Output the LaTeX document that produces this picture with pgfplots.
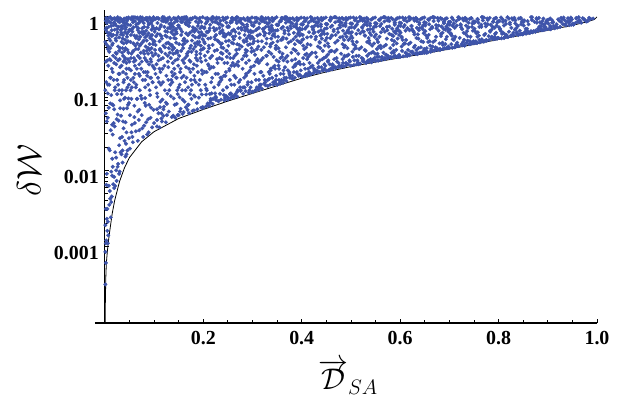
\RequirePackage{fix-cm}
\documentclass[border=0pt]{standalone}
\usepackage{pgfplots}
\pgfplotsset{compat=1.18}
\usepackage{fontspec}
\setmainfont{Liberation Serif}
\definecolor{ptblue}{RGB}{62,84,170}
\begin{document}
\begin{tikzpicture}
\path[use as bounding box] (-95bp,-74bp) rectangle (529bp,323bp);
\begin{axis}[
  scale only axis, width=502bp, height=313bp,
  xmin=-0.02, xmax=1.0, ymode=log, ymin=1e-4, ymax=1.23,
  axis x line=bottom, axis y line=middle,
  every outer x axis line/.append style={-},
  every inner y axis line/.append style={-},
  axis line style={-, line width=1.2bp, black},
  axis on top,
  tick align=inside,
  major tick length=4bp, minor tick length=3bp,
  tick style={black, line width=0.8bp},
  xtick={0.2,0.4,0.6,0.8,1.0}, xticklabels={0.2,0.4,0.6,0.8,1.0},
  minor xtick={0.05,0.1,0.15,0.25,0.3,0.35,0.45,0.5,0.55,0.65,0.7,0.75,0.85,0.9,0.95},
  ytick={0.001,0.01,0.1,1}, yticklabels={0.001,0.01,0.1,1},
  minor ytick={},
  ticklabel style={font=\fontsize{20}{22}\selectfont\bfseries},
  xticklabel style={yshift=-5bp},
  yticklabel style={yshift=-7bp, xshift=-2.5bp},
  xlabel={$\overrightarrow{\mathcal{D}}_{SA}$},
  ylabel={$\delta\mathcal{W}$},
  xlabel style={at={(axis description cs:0.504,-0.172)}, anchor=center, font=\fontsize{30}{34}\selectfont},
  ylabel style={at={(axis description cs:-0.1315,0.489)}, anchor=center, rotate=90, font=\fontsize{34}{38}\selectfont},
]
\addplot[only marks, mark=*, color=ptblue, mark size=1.8bp, mark options={draw=none, fill=ptblue}] table {
x y
0.017 0.31
0.003 0.72
0.041 0.088
0.029 0.54
0.008 0.019
0.046 0.93
0.012 0.16
0.035 0.027
0.021 0.81
0.006 0.38
0.044 0.21
0.026 0.011
0.014 0.67
0.038 0.45
0.002 0.055
0.031 0.96
0.019 0.062
0.048 0.34
0.009 0.87
0.023 0.24
0.036 0.71
0.004 0.0089
0.042 0.015
0.015 0.43
0.027 0.13
0.011 0.99
0.033 0.59
0.047 0.071
0.007 0.23
0.020 0.037
0.039 0.91
0.024 0.0072
0.001 0.47
0.045 0.55
0.013 0.095
0.030 0.28
0.018 0.78
0.037 0.19
0.005 0.63
0.028 0.044
0.043 0.83
0.010 0.0053
0.022 0.52
0.034 0.098
0.016 0.94
0.049 0.026
0.003 0.14
0.040 0.36
0.025 0.69
0.012 0.033
0.032 0.017
0.019 0.0058
0.046 0.16
0.008 0.97
0.038 0.063
0.027 0.88
0.014 0.21
0.002 0.0031
0.044 0.46
0.021 0.12
0.035 0.76
0.006 0.048
0.030 0.0095
0.017 0.58
0.041 0.29
0.011 0.074
0.048 0.64
0.024 0.33
0.004 0.83
0.033 0.051
0.015 0.0084
0.039 0.15
0.007 0.41
0.026 0.99
0.043 0.11
0.019 0.25
0.001 0.0019
0.036 0.87
0.013 0.59
0.029 0.021
0.047 0.79
0.009 0.13
0.022 0.92
0.040 0.024
0.005 0.27
0.031 0.39
0.016 0.029
0.045 0.064
0.025 0.15
0.011 0.49
0.037 0.58
0.003 0.97
0.020 0.68
0.042 0.39
0.014 0.0045
0.028 0.74
0.008 0.065
0.034 0.23
0.049 0.13
0.018 0.041
0.023 0.0099
0.039 0.95
0.006 0.0021
0.032 0.67
0.012 0.84
0.044 0.031
0.026 0.053
0.002 0.26
0.036 0.018
0.016 0.19
0.047 0.48
0.010 0.28
0.030 0.85
0.021 0.017
0.041 0.63
0.004 0.043
0.035 0.34
0.013 0.0038
0.027 0.41
0.048 0.98
0.009 0.52
0.019 0.96
0.038 0.26
0.001 0.11
0.024 0.58
0.043 0.18
0.015 0.072
0.033 0.93
0.007 0.0014
0.029 0.11
0.046 0.37
0.012 0.0024
0.022 0.29
0.040 0.77
0.003 0.0064
0.018 0.83
0.037 0.043
0.008 0.74
0.031 0.064
0.045 0.89
0.025 0.94
0.014 0.94
0.005 0.0016
0.042 0.69
0.020 0.11
0.034 0.47
0.011 0.39
0.049 0.075
0.027 0.27
0.016 0.011
0.002 0.89
0.039 0.085
0.023 0.77
0.006 0.13
0.044 0.25
0.030 0.18
0.017 0.0065
0.010 0.018
0.036 0.52
0.001 0.00032
0.002 0.00061
0.003 0.0012
0.004 0.0023
0.001 0.00085
0.073 0.44
0.056 0.91
0.088 0.13
0.062 0.27
0.095 0.68
0.051 0.052
0.079 0.83
0.067 0.024
0.091 0.37
0.058 0.16
0.084 0.97
0.070 0.061
0.099 0.22
0.053 0.58
0.076 0.035
0.064 0.75
0.093 0.048
0.081 0.29
0.059 0.99
0.086 0.57
0.071 0.11
0.097 0.89
0.054 0.33
0.066 0.085
0.089 0.031
0.078 0.64
0.061 0.041
0.094 0.16
0.052 0.78
0.083 0.19
0.069 0.92
0.098 0.44
0.057 0.023
0.075 0.26
0.087 0.73
0.063 0.53
0.092 0.095
0.080 0.038
0.055 0.12
0.068 0.38
0.096 0.036
0.074 0.97
0.060 0.069
0.085 0.49
0.050 0.26
0.077 0.15
0.090 0.82
0.065 0.21
0.099 0.061
0.058 0.45
0.082 0.087
0.072 0.55
0.093 0.28
0.053 0.94
0.067 0.67
0.086 0.029
0.079 0.36
0.061 0.88
0.097 0.14
0.070 0.033
0.089 0.61
0.055 0.039
0.076 0.71
0.064 0.13
0.091 0.98
0.082 0.54
0.059 0.29
0.095 0.39
0.069 0.18
0.051 0.019
0.084 0.27
0.073 0.093
0.062 0.98
0.088 0.046
0.097 0.76
0.056 0.64
0.078 0.027
0.066 0.45
0.093 0.56
0.081 0.93
0.053 0.15
0.071 0.29
0.086 0.17
0.060 0.57
0.099 0.99
0.075 0.052
0.057 0.35
0.090 0.24
0.068 0.82
0.083 0.069
0.063 0.032
0.096 0.51
0.052 0.47
0.077 0.47
0.092 0.16
0.065 0.96
0.087 0.88
0.054 0.085
0.080 0.74
0.070 0.24
0.094 0.065
0.059 0.14
0.085 0.36
0.074 0.63
0.061 0.18
0.098 0.31
0.050 0.68
0.082 0.12
0.067 0.058
0.091 0.44
0.056 0.027
0.079 0.19
0.095 0.94
0.063 0.38
0.072 0.87
0.088 0.33
0.058 0.73
0.084 0.042
0.069 0.51
0.097 0.23
0.053 0.29
0.076 0.98
0.090 0.071
0.065 0.085
0.081 0.61
0.060 0.049
0.094 0.83
0.071 0.42
0.087 0.96
0.055 0.99
0.123 0.57
0.108 0.16
0.141 0.84
0.116 0.043
0.134 0.29
0.102 0.93
0.147 0.11
0.128 0.71
0.112 0.38
0.139 0.051
0.105 0.24
0.131 0.98
0.119 0.062
0.145 0.46
0.110 0.69
0.136 0.19
0.124 0.042
0.101 0.48
0.149 0.77
0.114 0.13
0.127 0.89
0.143 0.27
0.106 0.062
0.133 0.53
0.118 0.97
0.140 0.086
0.103 0.33
0.129 0.15
0.146 0.61
0.111 0.036
0.137 0.41
0.121 0.23
0.107 0.83
0.144 0.95
0.126 0.073
0.115 0.56
0.132 0.34
0.148 0.052
0.104 0.12
0.138 0.67
0.120 0.99
0.109 0.27
0.142 0.18
0.125 0.45
0.113 0.078
0.135 0.91
0.101 0.64
0.130 0.058
0.147 0.36
0.117 0.21
0.139 0.74
0.106 0.045
0.122 0.11
0.144 0.52
0.110 0.94
0.128 0.31
0.136 0.049
0.103 0.18
0.149 0.99
0.119 0.42
0.133 0.13
0.112 0.59
0.141 0.39
0.124 0.86
0.107 0.09
0.138 0.25
0.115 0.047
0.145 0.16
0.127 0.64
0.102 0.37
0.131 0.81
0.118 0.29
0.140 0.97
0.109 0.055
0.134 0.092
0.121 0.74
0.146 0.073
0.113 0.19
0.126 0.052
0.105 0.71
0.142 0.59
0.129 0.22
0.116 0.89
0.137 0.14
0.100 0.041
0.148 0.28
0.123 0.33
0.111 0.48
0.135 0.63
0.143 0.048
0.108 0.97
0.120 0.067
0.132 0.44
0.147 0.88
0.114 0.28
0.139 0.33
0.104 0.56
0.125 0.17
0.150 0.12
0.117 0.99
0.130 0.39
0.106 0.037
0.141 0.21
0.122 0.94
0.110 0.14
0.136 0.79
0.119 0.051
0.145 0.69
0.127 0.099
0.101 0.21
0.133 0.71
0.115 0.35
0.144 0.34
0.128 0.95
0.112 0.066
0.173 0.62
0.158 0.27
0.191 0.088
0.166 0.93
0.184 0.41
0.152 0.13
0.197 0.75
0.178 0.059
0.161 0.52
0.189 0.19
0.155 0.86
0.170 0.071
0.194 0.33
0.163 0.99
0.181 0.24
0.150 0.052
0.186 0.68
0.175 0.15
0.159 0.39
0.199 0.99
0.168 0.061
0.192 0.47
0.154 0.69
0.183 0.091
0.172 0.84
0.165 0.22
0.196 0.065
0.157 0.11
0.187 0.96
0.176 0.35
0.162 0.078
0.193 0.57
0.151 0.44
0.180 0.72
0.169 0.12
0.198 0.18
0.156 0.97
0.185 0.29
0.171 0.055
0.190 0.83
0.160 0.17
0.177 0.49
0.195 0.11
0.153 0.058
0.182 0.64
0.167 0.31
0.188 0.062
0.164 0.81
0.199 0.38
0.174 0.95
0.158 0.083
0.179 0.21
0.192 0.91
0.151 0.31
0.185 0.14
0.169 0.58
0.196 0.26
0.162 0.45
0.176 0.085
0.154 0.21
0.190 0.54
0.172 0.27
0.183 0.99
0.157 0.64
0.197 0.097
0.166 0.16
0.180 0.38
0.153 0.94
0.187 0.075
0.171 0.76
0.160 0.057
0.194 0.71
0.177 0.13
0.163 0.29
0.189 0.44
0.150 0.77
0.182 0.17
0.168 0.89
0.198 0.58
0.156 0.16
0.175 0.42
0.193 0.15
0.165 0.066
0.185 0.87
0.159 0.49
0.178 0.96
0.195 0.37
0.152 0.089
0.170 0.35
0.188 0.27
0.161 0.93
0.181 0.060
0.199 0.066
0.167 0.48
0.174 0.19
0.191 0.63
0.155 0.36
0.184 0.54
0.164 0.11
0.196 0.86
0.179 0.73
0.158 0.054
0.173 0.098
0.186 0.35
0.223 0.55
0.207 0.19
0.241 0.91
0.214 0.076
0.236 0.34
0.202 0.71
0.248 0.12
0.229 0.83
0.211 0.42
0.244 0.087
0.205 0.27
0.232 0.97
0.219 0.073
0.246 0.48
0.209 0.63
0.237 0.16
0.225 0.091
0.201 0.39
0.249 0.74
0.216 0.14
0.227 0.93
0.243 0.25
0.206 0.097
0.234 0.61
0.218 0.99
0.240 0.11
0.203 0.31
0.230 0.18
0.247 0.58
0.212 0.069
0.238 0.45
0.221 0.22
0.208 0.87
0.245 0.96
0.226 0.082
0.215 0.53
0.233 0.29
0.250 0.089
0.204 0.13
0.239 0.67
0.220 0.99
0.210 0.24
0.242 0.17
0.224 0.51
0.213 0.098
0.235 0.89
0.201 0.58
0.231 0.079
0.248 0.36
0.217 0.22
0.239 0.77
0.206 0.068
0.222 0.12
0.244 0.55
0.211 0.94
0.228 0.37
0.236 0.083
0.203 0.19
0.249 0.98
0.219 0.43
0.233 0.14
0.212 0.66
0.241 0.39
0.224 0.86
0.207 0.11
0.238 0.28
0.215 0.081
0.245 0.17
0.227 0.69
0.202 0.47
0.231 0.81
0.218 0.31
0.240 0.98
0.209 0.074
0.234 0.099
0.221 0.72
0.246 0.093
0.213 0.21
0.226 0.088
0.205 0.82
0.242 0.61
0.229 0.25
0.216 0.92
0.237 0.15
0.200 0.065
0.248 0.30
0.223 0.36
0.210 0.52
0.235 0.64
0.243 0.081
0.208 0.97
0.220 0.085
0.232 0.47
0.247 0.84
0.214 0.29
0.239 0.33
0.204 0.57
0.225 0.18
0.273 0.61
0.257 0.23
0.291 0.89
0.264 0.095
0.286 0.37
0.252 0.74
0.298 0.14
0.278 0.82
0.261 0.45
0.294 0.11
0.255 0.29
0.282 0.96
0.269 0.091
0.296 0.52
0.259 0.66
0.287 0.18
0.275 0.12
0.251 0.42
0.299 0.78
0.266 0.16
0.277 0.93
0.293 0.27
0.256 0.10
0.284 0.58
0.268 0.99
0.290 0.13
0.253 0.33
0.280 0.21
0.297 0.63
0.262 0.088
0.288 0.48
0.271 0.26
0.258 0.86
0.295 0.95
0.276 0.11
0.265 0.56
0.283 0.31
0.300 0.105
0.254 0.15
0.289 0.69
0.270 0.98
0.260 0.25
0.292 0.19
0.274 0.53
0.263 0.13
0.285 0.91
0.251 0.61
0.281 0.099
0.298 0.39
0.267 0.24
0.289 0.75
0.256 0.087
0.272 0.14
0.294 0.57
0.261 0.94
0.278 0.41
0.286 0.107
0.253 0.21
0.299 0.98
0.269 0.44
0.283 0.16
0.262 0.68
0.291 0.43
0.274 0.87
0.257 0.13
0.288 0.31
0.265 0.098
0.295 0.20
0.277 0.72
0.252 0.49
0.281 0.79
0.268 0.33
0.290 0.97
0.259 0.092
0.284 0.12
0.271 0.71
0.296 0.12
0.263 0.23
0.276 0.108
0.255 0.84
0.292 0.64
0.279 0.28
0.266 0.91
0.287 0.17
0.250 0.083
0.298 0.35
0.273 0.38
0.260 0.55
0.285 0.66
0.293 0.102
0.258 0.96
0.270 0.11
0.282 0.49
0.297 0.85
0.264 0.31
0.289 0.36
0.254 0.59
0.323 0.64
0.307 0.26
0.341 0.88
0.314 0.12
0.336 0.41
0.302 0.76
0.348 0.17
0.329 0.83
0.311 0.48
0.344 0.14
0.305 0.32
0.332 0.97
0.319 0.115
0.346 0.55
0.309 0.69
0.337 0.21
0.325 0.15
0.301 0.45
0.349 0.79
0.316 0.19
0.327 0.94
0.343 0.30
0.306 0.11
0.334 0.61
0.318 0.99
0.340 0.16
0.303 0.36
0.330 0.24
0.347 0.66
0.312 0.112
0.338 0.52
0.321 0.29
0.308 0.87
0.345 0.95
0.326 0.14
0.315 0.59
0.333 0.35
0.350 0.13
0.304 0.18
0.339 0.72
0.320 0.98
0.310 0.28
0.342 0.22
0.324 0.57
0.313 0.15
0.335 0.91
0.301 0.64
0.331 0.125
0.348 0.42
0.317 0.27
0.339 0.77
0.306 0.109
0.322 0.17
0.344 0.60
0.311 0.95
0.328 0.45
0.336 0.13
0.303 0.23
0.349 0.99
0.319 0.48
0.333 0.19
0.312 0.71
0.341 0.46
0.324 0.86
0.307 0.15
0.338 0.33
0.315 0.125
0.345 0.23
0.327 0.74
0.302 0.52
0.331 0.81
0.318 0.37
0.340 0.97
0.309 0.12
0.334 0.155
0.321 0.69
0.346 0.14
0.313 0.25
0.326 0.128
0.305 0.85
0.342 0.67
0.329 0.31
0.316 0.92
0.337 0.20
0.300 0.104
0.348 0.38
0.323 0.40
0.310 0.57
0.335 0.68
0.343 0.13
0.308 0.97
0.373 0.66
0.357 0.29
0.391 0.89
0.364 0.15
0.386 0.44
0.352 0.78
0.398 0.20
0.378 0.84
0.361 0.51
0.394 0.17
0.355 0.35
0.382 0.96
0.369 0.145
0.396 0.57
0.359 0.71
0.387 0.24
0.375 0.18
0.351 0.48
0.399 0.80
0.366 0.22
0.377 0.94
0.393 0.33
0.356 0.14
0.384 0.62
0.368 0.99
0.390 0.19
0.353 0.39
0.380 0.27
0.397 0.68
0.362 0.138
0.388 0.55
0.371 0.31
0.358 0.88
0.395 0.95
0.376 0.17
0.365 0.61
0.383 0.38
0.400 0.165
0.354 0.21
0.389 0.73
0.370 0.98
0.360 0.30
0.392 0.25
0.374 0.59
0.363 0.18
0.385 0.91
0.351 0.67
0.381 0.155
0.398 0.46
0.367 0.29
0.389 0.79
0.356 0.134
0.372 0.20
0.394 0.63
0.361 0.96
0.378 0.48
0.386 0.16
0.353 0.26
0.399 0.98
0.369 0.52
0.383 0.22
0.362 0.74
0.391 0.49
0.374 0.87
0.357 0.18
0.388 0.36
0.365 0.16
0.395 0.26
0.377 0.76
0.352 0.55
0.381 0.82
0.368 0.40
0.390 0.97
0.359 0.15
0.384 0.19
0.371 0.72
0.396 0.175
0.363 0.27
0.376 0.16
0.355 0.86
0.392 0.69
0.379 0.34
0.366 0.93
0.387 0.23
0.350 0.13
0.423 0.68
0.407 0.32
0.441 0.90
0.414 0.18
0.436 0.47
0.402 0.79
0.448 0.23
0.429 0.85
0.411 0.54
0.444 0.20
0.405 0.38
0.432 0.97
0.419 0.178
0.446 0.60
0.409 0.73
0.437 0.27
0.425 0.21
0.401 0.50
0.449 0.81
0.416 0.25
0.427 0.95
0.443 0.36
0.406 0.17
0.434 0.64
0.418 0.99
0.440 0.22
0.403 0.42
0.430 0.30
0.447 0.70
0.412 0.172
0.438 0.57
0.421 0.34
0.408 0.89
0.445 0.96
0.426 0.20
0.415 0.63
0.433 0.41
0.450 0.198
0.404 0.24
0.439 0.75
0.420 0.98
0.410 0.33
0.442 0.28
0.424 0.61
0.413 0.21
0.435 0.92
0.401 0.69
0.431 0.188
0.448 0.49
0.417 0.32
0.439 0.80
0.406 0.168
0.422 0.23
0.444 0.65
0.411 0.96
0.428 0.51
0.436 0.19
0.403 0.29
0.449 0.98
0.419 0.55
0.433 0.25
0.412 0.76
0.441 0.52
0.424 0.88
0.407 0.21
0.438 0.39
0.415 0.19
0.445 0.29
0.427 0.77
0.402 0.58
0.431 0.83
0.418 0.43
0.440 0.97
0.409 0.18
0.434 0.22
0.421 0.74
0.446 0.21
0.413 0.30
0.426 0.19
0.405 0.87
0.473 0.70
0.457 0.35
0.491 0.91
0.464 0.22
0.486 0.50
0.452 0.80
0.498 0.26
0.478 0.86
0.461 0.57
0.494 0.24
0.455 0.41
0.482 0.97
0.469 0.213
0.496 0.62
0.459 0.74
0.487 0.30
0.475 0.25
0.451 0.53
0.499 0.82
0.466 0.28
0.477 0.95
0.493 0.39
0.456 0.203
0.484 0.66
0.468 0.99
0.490 0.25
0.453 0.45
0.480 0.33
0.497 0.72
0.462 0.206
0.488 0.60
0.471 0.37
0.458 0.89
0.495 0.96
0.476 0.23
0.465 0.65
0.483 0.44
0.500 0.23
0.454 0.27
0.489 0.76
0.470 0.98
0.460 0.36
0.492 0.31
0.474 0.63
0.463 0.24
0.485 0.93
0.451 0.71
0.481 0.222
0.498 0.52
0.467 0.35
0.489 0.81
0.472 0.26
0.494 0.67
0.461 0.96
0.478 0.54
0.486 0.225
0.453 0.32
0.499 0.98
0.469 0.58
0.483 0.28
0.462 0.77
0.491 0.55
0.474 0.88
0.457 0.24
0.488 0.42
0.465 0.22
0.495 0.32
0.477 0.78
0.452 0.60
0.481 0.84
0.468 0.46
0.490 0.97
0.459 0.21
0.484 0.25
0.523 0.72
0.507 0.38
0.541 0.92
0.514 0.25
0.536 0.53
0.502 0.81
0.548 0.29
0.529 0.87
0.511 0.60
0.544 0.27
0.505 0.44
0.532 0.97
0.519 0.245
0.546 0.64
0.509 0.75
0.537 0.33
0.525 0.28
0.501 0.56
0.549 0.83
0.516 0.31
0.527 0.95
0.543 0.42
0.506 0.235
0.534 0.68
0.518 0.99
0.540 0.28
0.503 0.48
0.530 0.36
0.547 0.74
0.512 0.24
0.538 0.62
0.521 0.40
0.508 0.90
0.545 0.96
0.526 0.26
0.515 0.67
0.533 0.47
0.550 0.265
0.504 0.30
0.539 0.77
0.520 0.98
0.510 0.39
0.542 0.34
0.524 0.65
0.513 0.27
0.535 0.93
0.501 0.73
0.531 0.255
0.548 0.55
0.517 0.38
0.539 0.82
0.522 0.29
0.544 0.69
0.511 0.96
0.528 0.57
0.536 0.26
0.503 0.35
0.549 0.98
0.519 0.61
0.533 0.31
0.512 0.79
0.541 0.58
0.524 0.89
0.507 0.27
0.538 0.45
0.515 0.25
0.545 0.35
0.527 0.79
0.502 0.63
0.531 0.85
0.573 0.74
0.557 0.41
0.591 0.92
0.564 0.28
0.586 0.56
0.552 0.82
0.598 0.32
0.578 0.88
0.561 0.63
0.594 0.30
0.555 0.47
0.582 0.97
0.569 0.28
0.596 0.66
0.559 0.76
0.587 0.36
0.575 0.31
0.551 0.59
0.599 0.84
0.566 0.34
0.577 0.95
0.593 0.45
0.556 0.268
0.584 0.70
0.568 0.99
0.590 0.31
0.553 0.51
0.580 0.39
0.597 0.76
0.562 0.275
0.588 0.64
0.571 0.43
0.558 0.90
0.595 0.96
0.576 0.29
0.565 0.69
0.583 0.50
0.600 0.30
0.554 0.33
0.589 0.79
0.570 0.98
0.560 0.42
0.592 0.37
0.574 0.67
0.563 0.30
0.585 0.93
0.551 0.75
0.581 0.29
0.598 0.58
0.567 0.41
0.589 0.83
0.572 0.32
0.594 0.71
0.561 0.96
0.578 0.60
0.586 0.30
0.553 0.38
0.599 0.98
0.569 0.64
0.583 0.34
0.562 0.81
0.591 0.61
0.574 0.90
0.557 0.30
0.588 0.48
0.623 0.76
0.607 0.44
0.641 0.93
0.614 0.32
0.636 0.59
0.602 0.83
0.648 0.36
0.629 0.89
0.611 0.66
0.644 0.34
0.605 0.50
0.632 0.97
0.619 0.315
0.646 0.69
0.609 0.78
0.637 0.39
0.625 0.35
0.601 0.62
0.649 0.85
0.616 0.37
0.627 0.95
0.643 0.48
0.606 0.305
0.634 0.72
0.618 0.99
0.640 0.34
0.603 0.54
0.630 0.42
0.647 0.78
0.612 0.31
0.638 0.67
0.621 0.46
0.608 0.91
0.645 0.96
0.626 0.33
0.615 0.71
0.633 0.53
0.650 0.34
0.604 0.36
0.639 0.80
0.620 0.98
0.610 0.45
0.642 0.40
0.624 0.69
0.613 0.33
0.635 0.93
0.601 0.76
0.631 0.33
0.648 0.61
0.617 0.44
0.639 0.84
0.622 0.35
0.644 0.73
0.611 0.96
0.628 0.63
0.636 0.335
0.603 0.41
0.649 0.98
0.619 0.67
0.633 0.37
0.673 0.78
0.657 0.47
0.691 0.93
0.664 0.36
0.686 0.62
0.652 0.84
0.698 0.41
0.678 0.89
0.661 0.69
0.694 0.39
0.655 0.53
0.682 0.97
0.669 0.362
0.696 0.72
0.659 0.80
0.687 0.43
0.675 0.39
0.651 0.65
0.699 0.86
0.666 0.41
0.677 0.95
0.693 0.51
0.656 0.345
0.684 0.75
0.668 0.99
0.690 0.39
0.653 0.57
0.680 0.45
0.697 0.80
0.662 0.35
0.688 0.70
0.671 0.49
0.658 0.91
0.695 0.96
0.676 0.375
0.665 0.74
0.683 0.56
0.700 0.395
0.654 0.39
0.689 0.82
0.670 0.98
0.660 0.48
0.692 0.44
0.674 0.71
0.663 0.38
0.685 0.94
0.651 0.77
0.681 0.38
0.698 0.64
0.667 0.47
0.689 0.86
0.672 0.40
0.694 0.75
0.661 0.96
0.678 0.66
0.723 0.80
0.707 0.51
0.741 0.94
0.714 0.42
0.736 0.65
0.702 0.86
0.748 0.47
0.729 0.90
0.711 0.72
0.744 0.45
0.705 0.57
0.732 0.97
0.719 0.415
0.746 0.74
0.709 0.82
0.737 0.49
0.725 0.44
0.701 0.68
0.749 0.87
0.716 0.46
0.727 0.95
0.743 0.55
0.706 0.395
0.734 0.77
0.718 0.99
0.740 0.44
0.703 0.61
0.730 0.50
0.747 0.82
0.712 0.405
0.738 0.72
0.721 0.53
0.708 0.92
0.745 0.96
0.726 0.425
0.715 0.77
0.733 0.60
0.750 0.45
0.704 0.44
0.739 0.84
0.720 0.98
0.710 0.52
0.742 0.48
0.724 0.73
0.713 0.43
0.735 0.94
0.701 0.79
0.731 0.43
0.748 0.66
0.773 0.82
0.757 0.55
0.791 0.94
0.764 0.48
0.786 0.68
0.752 0.87
0.798 0.53
0.778 0.91
0.761 0.74
0.794 0.52
0.755 0.61
0.782 0.97
0.769 0.475
0.796 0.77
0.759 0.84
0.787 0.54
0.775 0.50
0.751 0.70
0.799 0.88
0.766 0.51
0.777 0.95
0.793 0.60
0.756 0.455
0.784 0.79
0.768 0.99
0.790 0.51
0.753 0.64
0.780 0.56
0.797 0.84
0.762 0.465
0.788 0.74
0.771 0.58
0.758 0.92
0.795 0.97
0.776 0.49
0.765 0.79
0.783 0.64
0.800 0.53
0.754 0.48
0.789 0.86
0.770 0.98
0.760 0.57
0.792 0.55
0.774 0.75
0.823 0.84
0.807 0.60
0.841 0.95
0.814 0.55
0.836 0.71
0.802 0.88
0.848 0.60
0.829 0.92
0.811 0.77
0.844 0.59
0.805 0.65
0.832 0.97
0.819 0.545
0.846 0.80
0.809 0.86
0.837 0.60
0.825 0.57
0.801 0.73
0.849 0.90
0.816 0.58
0.827 0.96
0.843 0.66
0.806 0.525
0.834 0.82
0.818 0.99
0.840 0.58
0.803 0.68
0.830 0.62
0.847 0.86
0.812 0.54
0.838 0.77
0.821 0.64
0.808 0.93
0.845 0.97
0.826 0.565
0.815 0.81
0.833 0.68
0.850 0.60
0.873 0.86
0.857 0.66
0.891 0.95
0.864 0.62
0.886 0.75
0.852 0.90
0.898 0.69
0.878 0.93
0.861 0.80
0.894 0.68
0.855 0.70
0.882 0.97
0.869 0.63
0.896 0.83
0.859 0.88
0.887 0.67
0.875 0.64
0.851 0.77
0.899 0.91
0.866 0.65
0.877 0.96
0.893 0.73
0.856 0.605
0.884 0.85
0.868 0.99
0.890 0.67
0.853 0.63
0.880 0.70
0.897 0.88
0.862 0.62
0.888 0.81
0.923 0.89
0.907 0.72
0.941 0.96
0.914 0.71
0.936 0.81
0.902 0.92
0.948 0.79
0.929 0.94
0.911 0.85
0.944 0.78
0.905 0.76
0.932 0.98
0.919 0.725
0.946 0.88
0.909 0.90
0.937 0.77
0.925 0.74
0.901 0.82
0.949 0.93
0.916 0.75
0.927 0.97
0.943 0.84
0.906 0.69
0.953 0.80
0.961 0.86
0.968 0.84
0.974 0.92
0.958 0.95
0.981 0.88
0.965 0.90
0.987 0.94
0.956 0.83
0.971 0.96
0.978 0.87
0.963 0.99
0.984 0.97
0.992 0.95
0.034 0.62
0.071 0.17
0.012 0.27
0.089 0.79
0.046 0.12
0.005 0.91
0.058 0.36
0.023 0.49
0.097 0.14
0.039 0.83
0.066 0.98
0.017 0.07
0.083 0.41
0.051 0.67
0.028 0.18
0.092 0.53
0.009 0.35
0.075 0.085
0.044 0.97
0.061 0.23
0.031 0.081
0.086 0.26
0.014 0.56
0.054 0.031
0.078 0.59
0.021 0.95
0.095 0.34
0.037 0.31
0.068 0.71
0.003 0.44
0.049 0.21
0.081 0.075
0.026 0.63
0.063 0.12
0.011 0.16
0.093 0.91
0.042 0.042
0.073 0.34
0.019 0.85
0.057 0.85
0.035 0.11
0.087 0.19
0.007 0.57
0.065 0.56
0.029 0.36
0.099 0.47
0.047 0.28
0.015 0.039
0.076 0.89
0.053 0.20
0.024 0.046
0.091 0.11
0.033 0.75
0.069 0.045
0.002 0.68
0.058 0.96
0.041 0.50
0.084 0.66
0.018 0.15
0.062 0.42
0.027 0.92
0.096 0.58
0.048 0.086
0.072 0.99
0.013 0.76
0.055 0.69
0.036 0.39
0.088 0.39
0.006 0.10
0.067 0.31
0.043 0.73
0.079 0.49
0.022 0.34
0.094 0.26
0.038 0.14
0.064 0.80
0.016 0.45
0.082 0.15
0.045 0.60
0.074 0.21
0.010 0.61
0.059 0.26
0.031 0.22
0.098 0.72
0.052 0.11
0.085 0.92
0.025 0.098
0.070 0.62
0.040 0.27
0.080 0.33
0.134 0.82
0.171 0.21
0.112 0.37
0.189 0.76
0.146 0.16
0.105 0.96
0.158 0.43
0.123 0.65
0.197 0.20
0.139 0.59
0.166 0.99
0.117 0.083
0.183 0.45
0.151 0.73
0.128 0.26
0.192 0.54
0.109 0.31
0.175 0.11
0.144 0.92
0.161 0.25
0.131 0.11
0.186 0.32
0.114 0.78
0.154 0.063
0.178 0.66
0.121 0.91
0.195 0.42
0.137 0.37
0.168 0.78
0.103 0.43
0.149 0.23
0.181 0.094
0.126 0.55
0.163 0.14
0.111 0.21
0.193 0.97
0.142 0.071
0.173 0.39
0.119 0.88
0.157 0.86
0.135 0.15
0.187 0.23
0.107 0.60
0.165 0.61
0.129 0.46
0.199 0.51
0.147 0.34
0.115 0.055
0.176 0.93
0.153 0.19
0.124 0.076
0.191 0.13
0.133 0.74
0.169 0.071
0.102 0.69
0.159 0.98
0.141 0.53
0.184 0.70
0.118 0.14
0.162 0.49
0.127 0.95
0.196 0.63
0.148 0.098
0.172 0.92
0.113 0.74
0.155 0.58
0.136 0.43
0.188 0.47
0.106 0.10
0.167 0.33
0.143 0.69
0.179 0.57
0.122 0.40
0.194 0.29
0.138 0.17
0.164 0.84
0.116 0.52
0.182 0.15
0.145 0.64
0.174 0.26
0.234 0.81
0.271 0.23
0.212 0.39
0.289 0.79
0.246 0.19
0.205 0.95
0.258 0.46
0.223 0.66
0.297 0.22
0.239 0.62
0.266 0.97
0.217 0.10
0.283 0.47
0.251 0.76
0.228 0.28
0.292 0.56
0.209 0.35
0.275 0.15
0.244 0.93
0.261 0.29
0.231 0.13
0.286 0.34
0.214 0.79
0.254 0.098
0.278 0.68
0.221 0.96
0.295 0.44
0.237 0.40
0.268 0.83
0.203 0.45
0.249 0.25
0.281 0.12
0.226 0.58
0.263 0.17
0.211 0.23
0.293 0.91
0.242 0.095
0.273 0.43
0.219 0.86
0.257 0.89
0.235 0.16
0.287 0.25
0.207 0.64
0.265 0.64
0.229 0.49
0.299 0.55
0.247 0.36
0.215 0.085
0.276 0.94
0.253 0.20
0.224 0.10
0.291 0.14
0.233 0.72
0.269 0.105
0.202 0.73
0.259 0.97
0.241 0.56
0.284 0.73
0.218 0.16
0.262 0.51
0.227 0.98
0.296 0.66
0.248 0.12
0.272 0.88
0.213 0.71
0.255 0.61
0.236 0.44
0.288 0.52
0.206 0.115
0.267 0.37
0.334 0.84
0.371 0.26
0.312 0.41
0.389 0.81
0.346 0.21
0.305 0.97
0.358 0.50
0.323 0.70
0.397 0.24
0.339 0.65
0.366 0.99
0.317 0.13
0.383 0.51
0.351 0.79
0.328 0.31
0.392 0.60
0.309 0.38
0.375 0.19
0.344 0.94
0.361 0.33
0.331 0.15
0.386 0.37
0.314 0.82
0.354 0.15
0.378 0.71
0.321 0.92
0.395 0.47
0.337 0.44
0.368 0.84
0.303 0.48
0.349 0.27
0.381 0.17
0.326 0.61
0.363 0.20
0.311 0.26
0.393 0.93
0.342 0.14
0.373 0.46
0.319 0.88
0.357 0.90
0.335 0.18
0.387 0.28
0.307 0.67
0.365 0.66
0.329 0.52
0.399 0.59
0.347 0.39
0.315 0.13
0.376 0.95
0.353 0.23
0.324 0.135
0.391 0.18
0.333 0.74
0.369 0.16
0.302 0.78
0.359 0.97
0.341 0.57
0.384 0.75
0.318 0.19
0.362 0.54
0.327 0.96
0.396 0.71
0.348 0.15
0.372 0.90
0.313 0.72
0.434 0.86
0.471 0.29
0.412 0.44
0.489 0.83
0.446 0.24
0.405 0.97
0.458 0.53
0.423 0.72
0.497 0.27
0.439 0.67
0.466 0.99
0.417 0.18
0.483 0.55
0.451 0.80
0.428 0.34
0.492 0.63
0.409 0.40
0.475 0.22
0.444 0.95
0.461 0.36
0.431 0.20
0.486 0.40
0.414 0.84
0.454 0.20
0.478 0.73
0.421 0.93
0.495 0.50
0.437 0.46
0.468 0.85
0.403 0.51
0.449 0.30
0.481 0.23
0.426 0.63
0.463 0.23
0.411 0.28
0.493 0.94
0.442 0.20
0.473 0.49
0.419 0.89
0.457 0.91
0.435 0.22
0.487 0.31
0.407 0.70
0.465 0.68
0.429 0.55
0.499 0.62
0.447 0.42
0.415 0.175
0.476 0.96
0.453 0.26
0.424 0.185
0.491 0.235
0.433 0.76
0.469 0.22
0.402 0.80
0.459 0.98
0.441 0.60
0.484 0.77
0.418 0.22
0.462 0.57
0.534 0.87
0.571 0.32
0.512 0.47
0.589 0.85
0.546 0.28
0.505 0.98
0.558 0.55
0.523 0.74
0.597 0.30
0.539 0.69
0.566 0.99
0.517 0.245
0.583 0.58
0.551 0.81
0.528 0.37
0.592 0.66
0.509 0.42
0.575 0.29
0.544 0.95
0.561 0.39
0.531 0.25
0.586 0.43
0.514 0.86
0.554 0.27
0.578 0.75
0.521 0.94
0.595 0.52
0.537 0.49
0.568 0.87
0.503 0.53
0.549 0.33
0.581 0.30
0.526 0.64
0.563 0.28
0.511 0.31
0.593 0.95
0.542 0.255
0.573 0.52
0.519 0.90
0.557 0.92
0.535 0.27
0.587 0.34
0.507 0.72
0.565 0.70
0.529 0.57
0.599 0.65
0.547 0.45
0.515 0.24
0.576 0.97
0.553 0.30
0.524 0.265
0.591 0.30
0.533 0.78
0.569 0.29
0.502 0.82
0.634 0.88
0.671 0.37
0.612 0.50
0.689 0.86
0.646 0.34
0.605 0.98
0.658 0.58
0.623 0.76
0.697 0.39
0.639 0.71
0.666 0.99
0.617 0.32
0.683 0.60
0.651 0.82
0.628 0.40
0.692 0.68
0.609 0.45
0.675 0.37
0.644 0.95
0.661 0.42
0.631 0.33
0.686 0.46
0.614 0.87
0.654 0.34
0.678 0.77
0.621 0.94
0.695 0.55
0.637 0.52
0.668 0.88
0.603 0.55
0.649 0.38
0.681 0.37
0.626 0.66
0.663 0.36
0.611 0.34
0.693 0.95
0.642 0.335
0.673 0.55
0.619 0.91
0.657 0.93
0.635 0.325
0.687 0.38
0.607 0.74
0.665 0.72
0.629 0.59
0.699 0.67
0.647 0.47
0.615 0.31
0.676 0.97
0.653 0.36
0.734 0.89
0.771 0.48
0.712 0.55
0.789 0.87
0.746 0.45
0.705 0.98
0.758 0.63
0.723 0.78
0.797 0.52
0.739 0.73
0.766 0.99
0.717 0.42
0.783 0.66
0.751 0.84
0.728 0.47
0.792 0.72
0.709 0.50
0.775 0.49
0.744 0.96
0.761 0.50
0.731 0.42
0.786 0.55
0.714 0.88
0.754 0.46
0.778 0.80
0.721 0.95
0.795 0.62
0.737 0.56
0.768 0.90
0.703 0.59
0.749 0.48
0.781 0.50
0.726 0.69
0.763 0.47
0.711 0.40
0.793 0.96
0.742 0.44
0.773 0.60
0.719 0.93
0.757 0.94
0.735 0.46
0.787 0.52
0.707 0.76
0.765 0.74
0.729 0.62
0.834 0.90
0.871 0.65
0.812 0.60
0.889 0.88
0.846 0.60
0.805 0.98
0.858 0.70
0.823 0.80
0.897 0.70
0.839 0.76
0.866 0.99
0.817 0.55
0.883 0.75
0.851 0.86
0.828 0.58
0.892 0.79
0.809 0.62
0.875 0.66
0.844 0.96
0.861 0.63
0.831 0.57
0.886 0.69
0.814 0.89
0.854 0.61
0.878 0.84
0.821 0.95
0.895 0.74
0.837 0.63
0.868 0.91
0.803 0.70
0.849 0.59
0.881 0.66
0.826 0.72
0.863 0.62
0.811 0.53
0.934 0.91
0.912 0.76
0.951 0.82
0.927 0.86
0.905 0.95
0.962 0.88
0.918 0.80
0.945 0.90
0.973 0.94
0.931 0.80
0.903 0.70
0.958 0.97
0.921 0.93
0.939 0.87
0.966 0.85
0.985 0.95
0.909 0.84
0.947 0.98
0.976 0.90
0.952 0.79
0.011 0.0042
0.019 0.0081
0.027 0.012
0.034 0.016
0.043 0.022
0.008 0.0062
0.015 0.014
0.023 0.0145
0.031 0.026
0.038 0.035
0.046 0.018
0.005 0.0031
0.013 0.0095
0.021 0.0062
0.029 0.0089
0.036 0.0125
0.044 0.016
0.006 0.0011
0.002 0.0011
0.009 0.0035
};
\addplot[black, line width=0.8bp] table {
x y
0.0005 0.0001
0.001 0.00018
0.002 0.0004
0.003 0.0006
0.005 0.00085
0.0075 0.0012
0.01 0.0016
0.015 0.0027
0.02 0.004
0.03 0.0071
0.04 0.0107
0.05 0.0145
0.075 0.0234
0.1 0.0316
0.15 0.047
0.2 0.0617
0.25 0.0794
0.3 0.1
0.35 0.126
0.4 0.158
0.45 0.191
0.5 0.224
0.55 0.257
0.6 0.292
0.65 0.331
0.7 0.38
0.75 0.437
0.8 0.507
0.85 0.582
0.9 0.668
0.95 0.776
0.98 0.861
0.995 0.93
1.0 1.0
};
\end{axis}
\end{tikzpicture}
\end{document}
